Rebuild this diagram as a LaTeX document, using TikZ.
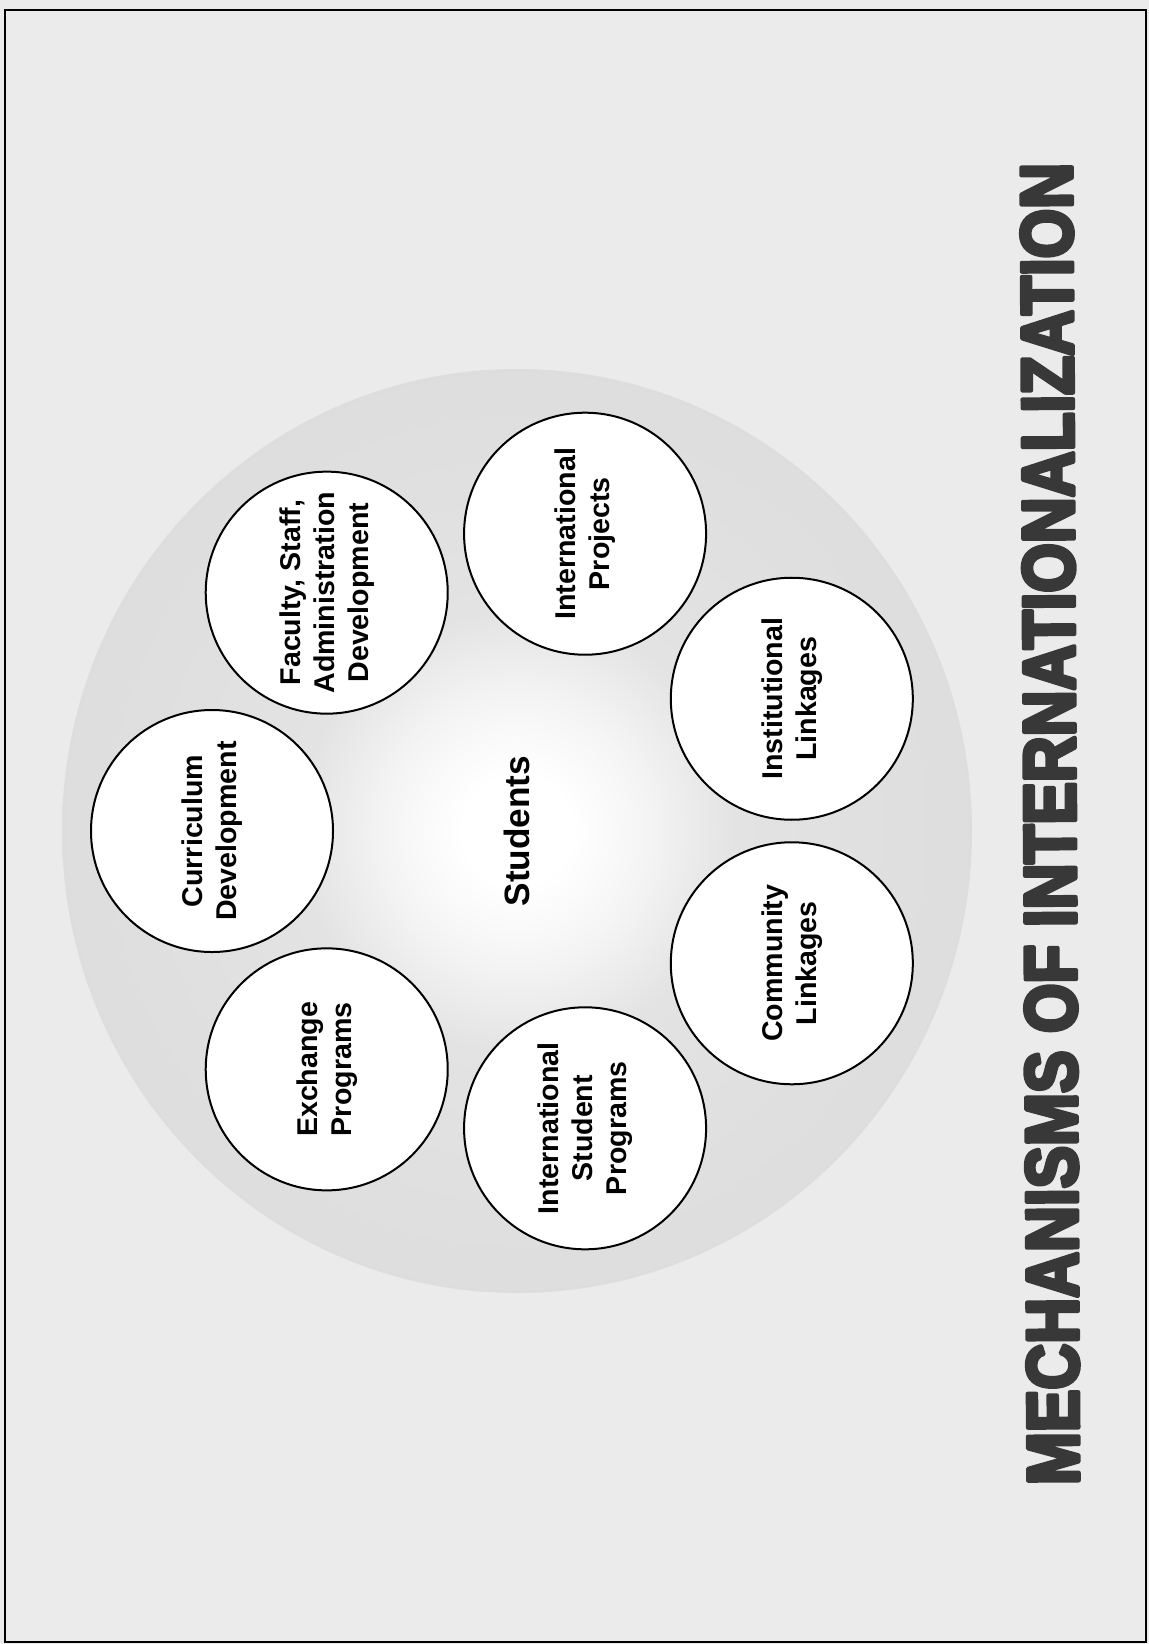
\documentclass[tikz,border=0pt]{standalone}
\usepackage{fontspec}
\setmainfont{Liberation Sans}
\usepackage{graphicx}

\pgfdeclareradialshading{ringglow}{\pgfpoint{0bp}{0bp}}{color(0bp)=(white); color(3bp)=(white); color(7bp)=(black!4); color(12bp)=(black!11); color(30bp)=(black!14); color(42bp)=(black!17); color(49bp)=(black!21); color(50bp)=(black!22)}

\begin{document}
\begin{tikzpicture}[x=0.5pt,y=-0.5pt]
  \tikzstyle{mech node}=[draw,circle,line width=1pt,fill=white,minimum size=121pt,inner sep=0pt,align=center,rotate=90,font=\fontsize{14.3}{17}\selectfont\bfseries]
  \tikzstyle{hub node}=[rotate=90,inner sep=0pt,font=\fontsize{17.6}{20}\selectfont\bfseries]
  \tikzstyle{title node}=[rotate=90.3,inner sep=0pt,text=black!78]

  \useasboundingbox (0,0) rectangle (1149,1644);
  \fill[black!8] (0,0) rectangle (1149,1644);
  \draw[line width=1pt] (5,10) rectangle (1146,1642);

  % grey ring with the light centre
  \coordinate (hub) at (517,831);
  \shade[shading=ringglow] (hub) ellipse (455 and 462);

  \node[hub node] (students) at (hub) {Students};

  \node[mech node] (curriculum) at ([shift={(180:305)}]hub) {Curriculum\\Development};
  \node[mech node] (faculty) at ([shift={(231.4:305)}]hub) {Faculty, Staff,\\Administration\\Development};
  \node[mech node] (projects) at ([shift={(282.9:305)}]hub) {International\\Projects};
  \node[mech node] (institutional) at ([shift={(334.3:305)}]hub) {Institutional\\Linkages};
  \node[mech node] (community) at ([shift={(25.7:305)}]hub) {Community\\Linkages};
  \node[mech node] (intstudent) at ([shift={(77.1:305)}]hub) {International\\Student\\Programs};
  \node[mech node] (exchange) at ([shift={(128.6:305)}]hub) {Exchange\\Programs};

  % heavy title, letters filled and stroked
  \node[title node] (title) at (1050,824) {\resizebox{661pt}{25.5pt}{\special{pdf:literal direct 2 Tr 0.6 w 1 j}\bfseries MECHANISMS OF INTERNATIONALIZATION\special{pdf:literal direct 0 Tr}}};
\end{tikzpicture}
\end{document}
